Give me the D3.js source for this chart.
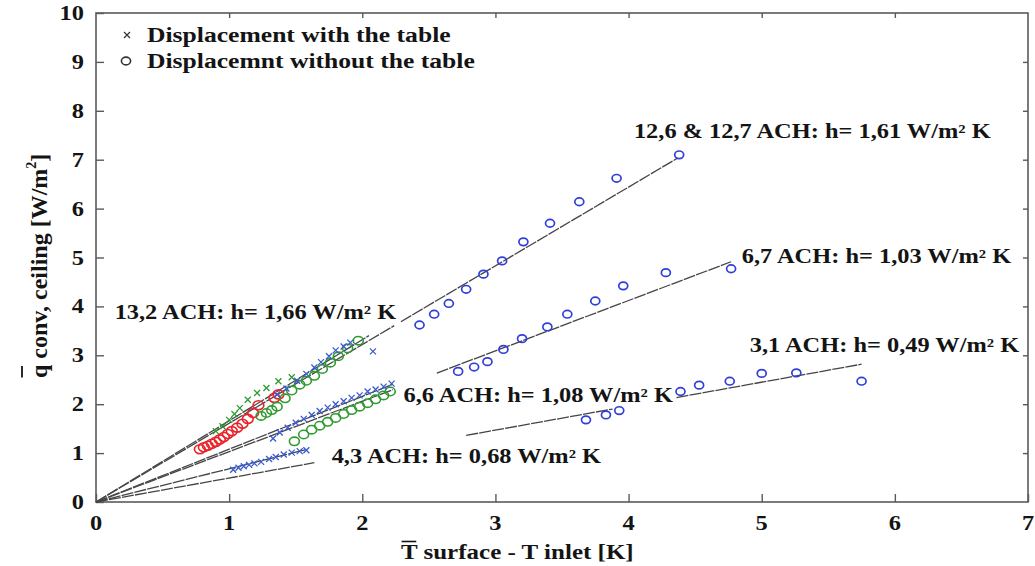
<!DOCTYPE html>
<html><head><meta charset="utf-8">
<script src="https://cdn.jsdelivr.net/npm/d3@7"></script>
<style>body{margin:0;background:#fff}</style>
</head><body>
<svg id="c" width="1035" height="566"></svg>
<script>
// ---------------- DATA ----------------
const xTicks = [0, 1, 2, 3, 4, 5, 6, 7];
const yTicks = [0, 1, 2, 3, 4, 5, 6, 7, 8, 9, 10];

const legendLabels = ["Displacement with the table", "Displacemnt without the table"];

// 13,2 ACH (red circles, green crosses)
const redCirclesX = [0.78,0.81,0.84,0.87,0.90,0.93,0.96,0.99,1.02,1.06,1.10,1.14,1.18,1.22,1.34,1.37];
const redCirclesY = [1.08,1.12,1.15,1.19,1.23,1.28,1.33,1.39,1.45,1.52,1.60,1.70,1.82,1.98,2.13,2.20];
const greenCrossesX = [0.90,0.95,1.00,1.04,1.08,1.14,1.21,1.28,1.37,1.47];
const greenCrossesY = [1.45,1.55,1.68,1.80,1.92,2.09,2.23,2.33,2.47,2.55];
// 12,6 & 12,7 ACH (left part)
const greenCirclesUpX = [1.24,1.28,1.32,1.36,1.42,1.47,1.53,1.58,1.64,1.70,1.76,1.82,1.89,1.97];
const greenCirclesUpY = [1.76,1.82,1.88,1.95,2.12,2.28,2.40,2.48,2.58,2.72,2.85,2.98,3.14,3.30];
const blueCrossesUpX = [1.36,1.43,1.51,1.58,1.64,1.69,1.75,1.80,1.86,1.91,2.08];
const blueCrossesUpY = [2.20,2.32,2.48,2.62,2.75,2.86,2.98,3.10,3.18,3.26,3.08];
// 6,6 ACH
const blueCrossesMidX = [1.33,1.38,1.44,1.50,1.56,1.62,1.68,1.74,1.80,1.86,1.92,1.98,2.04,2.10,2.16,2.22];
const blueCrossesMidY = [1.30,1.42,1.52,1.62,1.70,1.78,1.86,1.93,2.00,2.06,2.13,2.18,2.26,2.30,2.36,2.42];
const greenCirclesMidX = [1.49,1.56,1.62,1.68,1.74,1.80,1.86,1.92,1.98,2.04,2.10,2.16,2.21];
const greenCirclesMidY = [1.24,1.38,1.48,1.56,1.64,1.72,1.80,1.88,1.95,2.02,2.10,2.18,2.26];
// 4,3 ACH
const blueCrossesLowX = [1.03,1.07,1.11,1.15,1.19,1.24,1.30,1.35,1.41,1.47,1.53,1.58];
const blueCrossesLowY = [0.66,0.70,0.73,0.76,0.79,0.82,0.88,0.92,0.97,1.01,1.04,1.06];
// blue circles, right part
const blueCirclesHighX = [2.43,2.54,2.65,2.78,2.91,3.05,3.21,3.41,3.63,3.91,4.38];
const blueCirclesHighY = [3.62,3.84,4.06,4.35,4.66,4.93,5.32,5.70,6.14,6.62,7.10];
const blueCirclesMidX = [2.72,2.84,2.94,3.06,3.20,3.39,3.54,3.75,3.96,4.28,4.77];
const blueCirclesMidY = [2.67,2.76,2.87,3.12,3.34,3.58,3.84,4.11,4.42,4.69,4.77];
const blueCirclesLowX = [3.68,3.83,3.93,4.39,4.53,4.76,5.00,5.26,5.75];
const blueCirclesLowY = [1.68,1.78,1.87,2.26,2.39,2.47,2.63,2.64,2.47];

// fitted lines q = h * dT, with visible x-ranges
const fitSlopes = [1.66, 1.61, 1.08, 1.03, 0.68, 0.49];
const fitRanges = [
  [[0, 2.05]],
  [[0, 2.24], [2.29, 4.37]],
  [[0, 2.23]],
  [[0, 2.23], [2.56, 4.77]],
  [[0, 1.57]],
  [[0, 1.64], [2.78, 3.88], [4.36, 5.75]]
];

// annotation labels
const annText = ["12,6 & 12,7 ACH: h= 1,61 W/m² K", "6,7 ACH: h= 1,03 W/m² K", "3,1 ACH: h= 0,49 W/m² K",
                 "13,2 ACH: h= 1,66 W/m² K", "6,6 ACH: h= 1,08 W/m² K", "4,3 ACH: h= 0,68 W/m² K"];
const annX = [4.04, 4.85, 4.91, 0.14, 2.31, 1.77];
const annY = [7.45, 4.88, 3.07, 3.75, 2.05, 0.80];

// ---------------- DRAW ----------------
const svg = d3.select("#c");
const L = 96, R = 1028, T = 13, B = 502;
const x = d3.scaleLinear().domain([0, 7]).range([L, R]);
const y = d3.scaleLinear().domain([0, 10]).range([B, T]);
const FONT = "'Liberation Serif', 'Times New Roman', serif";
const SX = 1.22; // horizontal stretch of the original picture
const axisCol = "#5a5a5a";

// frame
svg.append("rect").attr("x", L).attr("y", T).attr("width", R - L).attr("height", B - T)
  .attr("fill", "none").attr("stroke", axisCol).attr("stroke-width", 1.6);

function styleAxis(g) {
  g.select(".domain").remove();
  g.selectAll(".tick line").attr("stroke", axisCol).attr("stroke-width", 1.4);
}
svg.append("g").attr("transform", `translate(0,${B})`)
  .call(d3.axisBottom(x).tickValues(xTicks).tickSize(-8).tickFormat(""))
  .call(styleAxis);
svg.append("g").attr("transform", `translate(${L},0)`)
  .call(d3.axisLeft(y).tickValues(yTicks).tickSize(-8).tickFormat(""))
  .call(styleAxis);
svg.append("g").attr("transform", `translate(0,${T})`)
  .call(d3.axisTop(x).tickValues(xTicks.slice(1, -1)).tickSize(-5).tickFormat(""))
  .call(styleAxis);
svg.append("g").attr("transform", `translate(${R},0)`)
  .call(d3.axisRight(y).tickValues(yTicks.slice(1, -1)).tickSize(-5).tickFormat(""))
  .call(styleAxis);

// tick labels
function stretchedText(parent, px, py, anchor, size) {
  return parent.append("text")
    .attr("transform", `translate(${px},${py}) scale(${SX},1)`)
    .attr("text-anchor", anchor).attr("font-family", FONT).attr("font-weight", "bold")
    .attr("font-size", size).attr("fill", "#141414");
}
xTicks.forEach(v => stretchedText(svg, x(v), B + 28, "middle", 20).text(v));
yTicks.forEach(v => stretchedText(svg, L - 12, y(v) + 7, "end", 20).text(v));

// fit lines
const lineGen = d3.line().x(d => x(d[0])).y(d => y(d[1]));
const lg = svg.append("g");
fitSlopes.forEach((h, i) => {
  fitRanges[i].forEach(r => {
    lg.append("path").attr("d", lineGen([[r[0], h * r[0]], [r[1], h * r[1]]]))
      .attr("fill", "none").attr("stroke", "#454545").attr("stroke-width", 1.3)
      .attr("stroke-dasharray", "12,1.2");
  });
});

// markers
const zip = (a, b) => a.map((v, i) => [v, b[i]]);
function circles(xs, ys, col, rx, ry, sw) {
  svg.append("g").selectAll("ellipse").data(zip(xs, ys)).join("ellipse")
    .attr("cx", d => x(d[0])).attr("cy", d => y(d[1]))
    .attr("rx", rx).attr("ry", ry).attr("fill", "none").attr("stroke", col).attr("stroke-width", sw);
}
function crosses(xs, ys, col, s) {
  svg.append("g").selectAll("path").data(zip(xs, ys)).join("path")
    .attr("d", d => {
      const cx = x(d[0]), cy = y(d[1]);
      return `M${cx - s},${cy - s}L${cx + s},${cy + s}M${cx - s},${cy + s}L${cx + s},${cy - s}`;
    })
    .attr("stroke", col).attr("stroke-width", 1.3).attr("fill", "none");
}
const RED = "#e8232b", GREEN = "#2f9a2f", BLUE = "#2f3fd8", BLUEX = "#3b5bd0";
circles(redCirclesX, redCirclesY, RED, 5.4, 4.5, 1.6);
circles(greenCirclesUpX, greenCirclesUpY, GREEN, 5.0, 4.2, 1.6);
circles(greenCirclesMidX, greenCirclesMidY, GREEN, 5.0, 4.2, 1.6);
crosses(greenCrossesX, greenCrossesY, GREEN, 3);
crosses(blueCrossesUpX, blueCrossesUpY, BLUEX, 3);
crosses(blueCrossesMidX, blueCrossesMidY, BLUEX, 3);
crosses(blueCrossesLowX, blueCrossesLowY, BLUEX, 3);
circles(blueCirclesHighX, blueCirclesHighY, BLUE, 4.5, 3.8, 1.7);
circles(blueCirclesMidX, blueCirclesMidY, BLUE, 4.5, 3.8, 1.7);
circles(blueCirclesLowX, blueCirclesLowY, BLUE, 4.5, 3.8, 1.7);

// annotations
annText.forEach((t, i) => {
  stretchedText(svg, x(annX[i]), y(annY[i]), "start", 20).text(t);
});

// legend
const legY = [35, 61];
svg.append("path")
  .attr("d", `M${124},${legY[0] - 3}L${130},${legY[0] + 3}M${124},${legY[0] + 3}L${130},${legY[0] - 3}`)
  .attr("stroke", "#333").attr("stroke-width", 1.2);
svg.append("ellipse").attr("cx", 126).attr("cy", legY[1]).attr("rx", 4.6).attr("ry", 3.9)
  .attr("fill", "none").attr("stroke", "#333").attr("stroke-width", 1.6);
legendLabels.forEach((t, i) => stretchedText(svg, 147, legY[i] + 7, "start", 21).text(t));

// x axis title
const xt = svg.append("g").attr("transform", `translate(401,559) scale(${SX},1)`);
xt.append("text").attr("font-family", FONT).attr("font-weight", "bold").attr("font-size", 20.5)
  .attr("fill", "#141414").text("T surface - T inlet [K]");
xt.append("line").attr("x1", 0.5).attr("x2", 12.5).attr("y1", -17.5).attr("y2", -17.5)
  .attr("stroke", "#141414").attr("stroke-width", 1.6);

// y axis title
const yt = svg.append("g").attr("transform", `translate(47,378) rotate(-90)`);
const ytx = yt.append("text").attr("font-family", FONT).attr("font-weight", "bold").attr("font-size", 24)
  .attr("fill", "#141414");
ytx.append("tspan").text("q conv, ceiling [W/m");
ytx.append("tspan").attr("font-size", 14).attr("dy", -11).text("2");
ytx.append("tspan").attr("dy", 11).text("]");
yt.append("line").attr("x1", 0.5).attr("x2", 12).attr("y1", -25).attr("y2", -25)
  .attr("stroke", "#141414").attr("stroke-width", 1.8);
</script></body></html>
